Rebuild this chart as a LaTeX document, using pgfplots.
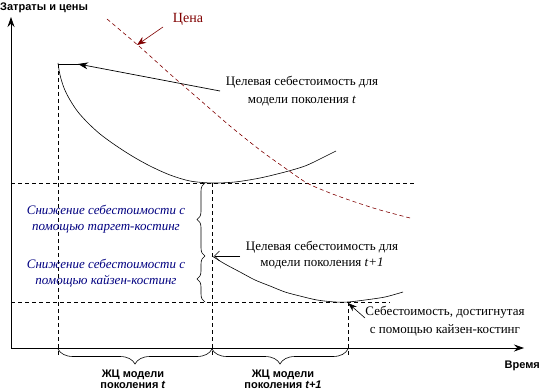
\documentclass[border=0pt]{standalone}
\usepackage{fontspec}
\setmainfont{Liberation Serif}
\setsansfont{Liberation Sans}
\usepackage{pgfplots}
\pgfplotsset{compat=1.18}
\usetikzlibrary{arrows.meta,decorations.pathreplacing}
\definecolor{pricered}{RGB}{128,0,0}
\definecolor{navyblue}{RGB}{0,0,128}
\begin{document}
\begin{tikzpicture}
\begin{axis}[x=1pt,y=1pt,xmin=0,xmax=540,ymin=0,ymax=390,y dir=reverse,hide axis,clip=false]
\path (axis cs:0,0) rectangle (axis cs:540,390);
% axes
\draw[line width=0.7pt,-{Stealth[length=10pt,width=7pt]}] (axis cs:11,348) -- (axis cs:11,17);
\draw[line width=0.7pt,-{Stealth[length=10pt,width=7pt]}] (axis cs:11,348) -- (axis cs:524,348);
\node[anchor=west,inner sep=0pt,font=\sffamily\bfseries\fontsize{11}{13}\selectfont] at (axis cs:0,8) {Затраты и цены};
\node[anchor=east,inner sep=0pt,font=\sffamily\bfseries\fontsize{11}{13}\selectfont] at (axis cs:540,366) {Время};
% dashed guides
\addplot[black,line width=0.6pt,dash pattern=on 4pt off 3pt] coordinates {(11,183) (414,183)};
\addplot[black,line width=0.6pt,dash pattern=on 4pt off 3pt] coordinates {(11,302) (390,302)};
\addplot[black,line width=0.6pt,dash pattern=on 4pt off 3pt] coordinates {(58,64) (58,357)};
\addplot[black,line width=0.6pt,dash pattern=on 4pt off 3pt] coordinates {(212,183) (212,357)};
\addplot[black,line width=0.6pt,dash pattern=on 4pt off 3pt] coordinates {(348,302) (348,357)};
% cost curve generation t
\addplot[black,line width=0.6pt,smooth] coordinates {(58,63) (60,75) (64,88) (70,100) (78,112) (88,123) (100,134) (115,145) (132,156) (150,166) (170,175) (190,181) (212,183) (235,182) (260,178) (285,172) (305,166) (320,159) (336,151)};
% cost curve generation t+1
\addplot[black,line width=0.6pt,smooth] coordinates {(212,256) (225,264) (240,272) (255,280) (270,286) (285,292) (300,296) (317,300) (335,302) (348,302) (365,300) (385,297) (403,292)};
% price
\addplot[pricered,line width=0.6pt,dash pattern=on 4pt off 3pt,smooth] coordinates {(107,19) (140,47) (170,74) (200,100) (230,126) (260,150) (285,168) (307,183) (330,193) (355,202) (380,210) (410,218)};
\draw[pricered,line width=0.6pt,-{Stealth[length=9pt,width=7pt]}] (axis cs:163,27) -- (axis cs:137,45);
\node[pricered,font=\fontsize{14}{16}\selectfont] at (axis cs:188,19) {Цена};
% target cost t
\draw[line width=0.7pt] (axis cs:58,64) -- (axis cs:80,64);
\draw[line width=0.7pt,-{Stealth[length=10pt,width=7pt]}] (axis cs:220,91) -- (axis cs:78,64);
\node[align=center,font=\fontsize{13}{18}\selectfont] at (axis cs:302,91) {Целевая себестоимость для\\модели поколения \textit{t}};
% target cost t+1
\draw[line width=0.6pt,-{Straight Barb[length=5pt,width=10pt]}] (axis cs:240,256) -- (axis cs:214,256);
\node[align=center,font=\fontsize{13}{16}\selectfont] at (axis cs:322,255) {Целевая себестоимость для\\модели поколения \textit{t+1}};
% kaizen achieved
\draw[line width=0.6pt,-{Stealth[length=9pt,width=6pt]}] (axis cs:365,318) -- (axis cs:348,303);
\node[align=center,font=\fontsize{13}{18}\selectfont] at (axis cs:445,321) {Себестоимость, достигнутая\\с помощью кайзен-костинг};
% braces left
\draw[line width=0.6pt,decorate,decoration={brace,amplitude=8pt}] (axis cs:205,256) -- (axis cs:205,183);
\draw[line width=0.6pt,decorate,decoration={brace,amplitude=8pt}] (axis cs:205,302) -- (axis cs:205,256);
\node[navyblue,align=center,font=\itshape\fontsize{13}{16}\selectfont] at (axis cs:106,219) {Снижение себестоимости с\\помощью таргет-костинг};
\node[navyblue,align=center,font=\itshape\fontsize{13}{16}\selectfont] at (axis cs:106,273) {Снижение себестоимости с\\помощью кайзен-костинг};
% bottom braces
\draw[line width=0.6pt,decorate,decoration={brace,amplitude=15pt}] (axis cs:212,349) -- (axis cs:58,349);
\draw[line width=0.6pt,decorate,decoration={brace,amplitude=15pt}] (axis cs:348,349) -- (axis cs:212,349);
\node[anchor=base,inner sep=0pt,font=\sffamily\bfseries\fontsize{11}{13}\selectfont] at (axis cs:133,377) {ЖЦ модели};
\node[anchor=base,inner sep=0pt,font=\sffamily\bfseries\fontsize{11}{13}\selectfont] at (axis cs:133,388.5) {поколения \textit{t}};
\node[anchor=base,inner sep=0pt,font=\sffamily\bfseries\fontsize{11}{13}\selectfont] at (axis cs:283,377) {ЖЦ модели};
\node[anchor=base,inner sep=0pt,font=\sffamily\bfseries\fontsize{11}{13}\selectfont] at (axis cs:283,388.5) {поколения \textit{t+1}};
\end{axis}
\end{tikzpicture}
\end{document}
